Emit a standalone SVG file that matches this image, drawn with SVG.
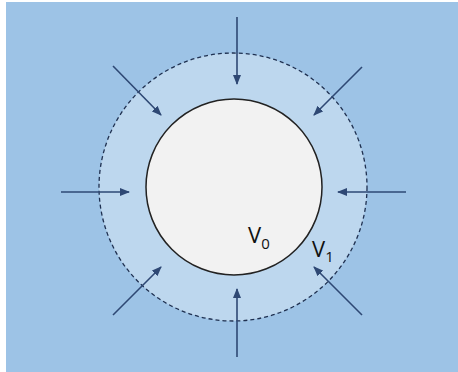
<svg xmlns="http://www.w3.org/2000/svg" width="458" height="372" viewBox="0 0 458 372">
<style>
.arrow{stroke:#2e4874;stroke-width:1.6;fill:none;marker-end:url(#ah)}
.lbl{font-family:"Open Sans","Liberation Sans",sans-serif;fill:#111}
</style>
<defs>
<marker id="ah" markerWidth="10" markerHeight="8" refX="9" refY="4" orient="auto" markerUnits="userSpaceOnUse">
<path d="M0,0 L10,4 L0,8 Z" fill="#2e4874"/>
</marker>
</defs>
<rect x="0" y="0" width="458" height="372" fill="#ffffff"/>
<rect id="background" x="6" y="2" width="452" height="370" fill="#9dc3e6"/>
<g id="outer">
<circle cx="233" cy="187" r="134" fill="#bdd7ee" stroke="#1f3050" stroke-width="1.3" stroke-dasharray="4,3"/>
</g>
<g id="inner">
<circle cx="234" cy="187" r="88" fill="#f2f2f2" stroke="#222" stroke-width="1.5"/>
</g>
<g id="connectors">
<line class="arrow" x1="237" y1="17" x2="237" y2="84"/>
<line class="arrow" x1="237" y1="357" x2="237" y2="289"/>
<line class="arrow" x1="61" y1="192" x2="129" y2="192"/>
<line class="arrow" x1="406" y1="192" x2="338" y2="192"/>
<line class="arrow" x1="113" y1="66" x2="161" y2="115"/>
<line class="arrow" x1="362" y1="67" x2="314" y2="115"/>
<line class="arrow" x1="113" y1="315" x2="161" y2="267"/>
<line class="arrow" x1="362" y1="315" x2="314" y2="267"/>
</g>
<g id="label-v0">
<text class="lbl" x="248" y="243" font-size="22">V<tspan font-size="15" dy="6">0</tspan></text>
</g>
<g id="label-v1">
<text class="lbl" x="312" y="257" font-size="22">V<tspan font-size="15" dy="5">1</tspan></text>
</g>
</svg>
